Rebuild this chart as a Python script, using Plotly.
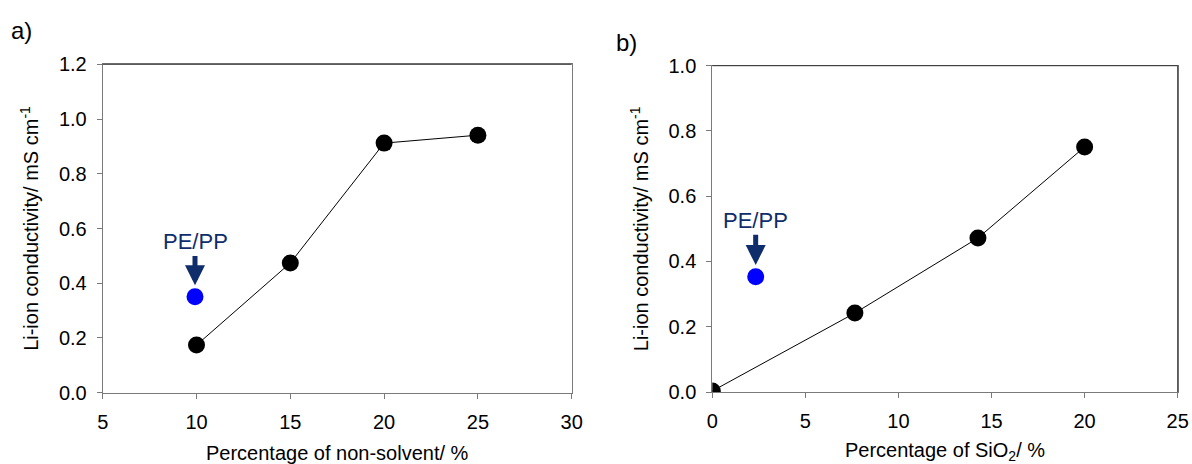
import plotly.graph_objects as go

# Panel a data
xa = [10, 15, 20, 25]
ya = [0.174, 0.474, 0.912, 0.941]
ref_a_x = [9.92]
ref_a_y = [0.351]

# Panel b data
xb = [0, 7.66, 14.27, 20]
yb = [0.003, 0.242, 0.472, 0.751]
ref_b_x = [2.33]
ref_b_y = [0.353]

ref_label = "PE/PP"

FONT = "Liberation Sans, Arial, sans-serif"
AX = "#7a7a7a"
NAVY = "#0f2d6b"

fig = go.Figure()
fig.add_trace(go.Scatter(x=xa, y=ya, mode="lines+markers", xaxis="x", yaxis="y",
                         line=dict(color="black", width=1),
                         marker=dict(color="black", size=17), showlegend=False))
fig.add_trace(go.Scatter(x=ref_a_x, y=ref_a_y, mode="markers", xaxis="x", yaxis="y",
                         marker=dict(color="#0000ff", size=17), showlegend=False))
fig.add_trace(go.Scatter(x=xb, y=yb, mode="lines+markers", xaxis="x2", yaxis="y2",
                         line=dict(color="black", width=1),
                         marker=dict(color="black", size=17), showlegend=False))
fig.add_trace(go.Scatter(x=ref_b_x, y=ref_b_y, mode="markers", xaxis="x2", yaxis="y2",
                         marker=dict(color="#0000ff", size=17), showlegend=False))

axcommon = dict(showline=True, linecolor=AX, linewidth=1, mirror=True, ticks="outside",
                ticklen=5, tickcolor=AX, showgrid=False, zeroline=False,
                ticklabelstandoff=6,
                tickfont=dict(family=FONT, size=20, color="black"))

ytitle = "Li-ion conductivity/ mS cm<sup>-1</sup>"
fig.update_layout(
    width=1192, height=464,
    margin=dict(l=0, r=0, t=0, b=0, autoexpand=False),
    plot_bgcolor="white", paper_bgcolor="white",
    font=dict(family=FONT, color="black"),
    xaxis=dict(domain=[102.7 / 1192, 571.7 / 1192], range=[5, 30], dtick=5, anchor="y",
               title=dict(text="Percentage of non-solvent/ %", font=dict(size=20), standoff=25),
               **axcommon),
    yaxis=dict(domain=[1 - 392.7 / 464, 1 - 64.3 / 464], range=[0, 1.2], dtick=0.2,
               tickformat=".1f", anchor="x",
               title=dict(text=ytitle, font=dict(size=20), standoff=14),
               **axcommon),
    xaxis2=dict(domain=[712.3 / 1192, 1177.7 / 1192], range=[0, 25], dtick=5, anchor="y2",
                title=dict(text="Percentage of SiO<sub>2</sub>/ %", font=dict(size=20), standoff=25),
                **axcommon),
    yaxis2=dict(domain=[1 - 392.0 / 464, 1 - 65.7 / 464], range=[0, 1.0], dtick=0.2,
                tickformat=".1f", anchor="x2",
                title=dict(text=ytitle, font=dict(size=20), standoff=14),
                **axcommon),
)

# darker top frame lines as in the reference
fig.add_shape(type="line", xref="x domain", yref="y domain", x0=0, x1=1, y0=1, y1=1,
              line=dict(color="#333333", width=1))
fig.add_shape(type="line", xref="x2 domain", yref="y2 domain", x0=0, x1=1, y0=1, y1=1,
              line=dict(color="#333333", width=1))
fig.add_shape(type="line", xref="x2 domain", yref="y2 domain", x0=1, x1=1, y0=0, y1=1,
              line=dict(color="#333333", width=1))

for xr, yr, xv, head, ty in [("x", "y", ref_a_x[0], 0.393, 0.551),
                             ("x2", "y2", ref_b_x[0], 0.389, 0.525)]:
    fig.add_annotation(x=xv, y=head, xref=xr, yref=yr, ax=xv, ay=ty, axref=xr, ayref=yr,
                       text=ref_label, showarrow=True, arrowhead=2, arrowsize=0.8,
                       arrowwidth=5, arrowcolor=NAVY,
                       font=dict(family=FONT, size=22, color=NAVY))

fig.add_annotation(x=21 / 1192, y=1 - 30 / 464, xref="paper", yref="paper", text="a)",
                   showarrow=False, xanchor="center", yanchor="middle",
                   font=dict(family=FONT, size=24))
fig.add_annotation(x=626 / 1192, y=1 - 43 / 464, xref="paper", yref="paper", text="b)",
                   showarrow=False, xanchor="center", yanchor="middle",
                   font=dict(family=FONT, size=24))

fig.write_html("out.html")
